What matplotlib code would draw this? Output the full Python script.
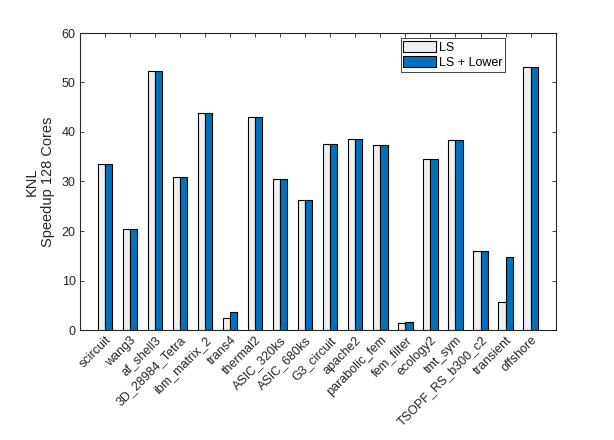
import matplotlib.pyplot as plt
import numpy as np

plt.rcParams['font.family'] = ['Liberation Sans', 'DejaVu Sans']

matrices = ['scircuit', 'wang3', 'af_shell3', '3D_28984_Tetra', 'ibm_matrix_2', 'trans4',
            'thermal2', 'ASIC_320ks', 'ASIC_680ks', 'G3_circuit', 'apache2', 'parabolic_fem',
            'fem_filter', 'ecology2', 'tmt_sym', 'TSOPF_RS_b300_c2', 'transient', 'offshore']
speedup_ls = [33.5, 20.4, 52.3, 30.9, 43.8, 2.4, 43.0, 30.5, 26.2, 37.5, 38.6, 37.3,
              1.35, 34.5, 38.4, 16.0, 5.6, 53.1]
speedup_lower = [33.5, 20.4, 52.3, 30.9, 43.8, 3.6, 43.0, 30.5, 26.2, 37.5, 38.6, 37.3,
                 1.55, 34.5, 38.4, 16.0, 14.7, 53.1]

gris = '#262626'
fig = plt.figure(figsize=(6.14, 4.40), dpi=100)
ax = fig.add_axes([0.130, 0.25, 0.775, 0.675])

x = np.arange(1, len(matrices) + 1)
ancho = 0.286
ax.bar(x - ancho / 2, speedup_ls, ancho, color='#F0F0F0', edgecolor='black', linewidth=0.8, label='LS')
ax.bar(x + ancho / 2, speedup_lower, ancho, color='#0072BD', edgecolor='black', linewidth=0.8, label='LS + Lower')

ax.set_xlim(0, len(matrices) + 1)
ax.set_ylim(0, 60)
ax.set_yticks(range(0, 61, 10))
ax.set_xticks(x)
ax.set_xticklabels(matrices, rotation=45, ha='right', rotation_mode='anchor')
ax.tick_params(direction='in', top=True, right=True, length=3, width=0.6,
               colors=gris, labelsize=9, pad=3)
for s in ax.spines.values():
    s.set_color(gris)
    s.set_linewidth(0.8)

ax.set_ylabel('KNL\nSpeedup 128 Cores', fontsize=10.5, color=gris, labelpad=5,
              linespacing=1.2)

leg = ax.legend(loc='upper left', bbox_to_anchor=(0.674, 0.982), fontsize=9,
                fancybox=False, framealpha=1, edgecolor=gris, borderpad=0.2,
                handlelength=2.6, handleheight=1.0, handletextpad=0.3, labelspacing=0.2,
                borderaxespad=0)
leg.get_frame().set_linewidth(0.6)

fig.savefig('out.png', dpi=100)
